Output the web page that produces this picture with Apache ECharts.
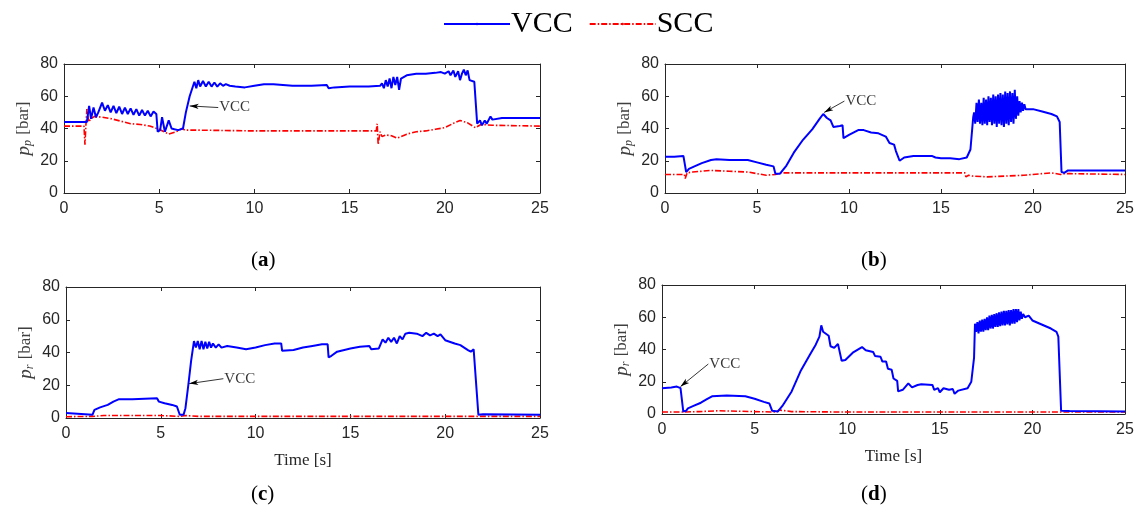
<!DOCTYPE html>
<html>
<head>
<meta charset="utf-8">
<script src="https://cdn.jsdelivr.net/npm/echarts@6/dist/echarts.min.js"></script>
<style>
html, body { margin: 0; padding: 0; background: #fff; }
#main { width: 1141px; height: 515px; }
</style>
</head>
<body>
<div id="main"></div>
<script>
// ticks
var xTicks = [0, 5, 10, 15, 20, 25];
var yTicks = [0, 20, 40, 60, 80];
var seriesNames = ['VCC', 'SCC'];
var panelLabels = ['a', 'b', 'c', 'd'];

// (a) p_p, case 1
var aVccT = [0, 1.2, 1.28, 1.32, 1.42, 1.55, 1.68, 1.8, 2.0, 2.15, 2.3, 2.45, 2.6, 2.75, 2.9, 3.05, 3.2, 3.35, 3.5, 3.65, 3.8, 3.95, 4.1, 4.25, 4.4, 4.55, 4.7, 4.85, 4.92, 5.05, 5.15, 5.3, 5.5, 5.65, 5.8, 6.0, 6.25, 6.4, 6.6, 6.85, 6.95, 7.05, 7.15, 7.3, 7.45, 7.6, 7.75, 7.9, 8.05, 8.2, 8.35, 8.5, 8.7, 9.0, 9.5, 10.0, 10.5, 11.0, 11.5, 12.0, 13.0, 13.8, 13.9, 14.2, 15, 16, 16.6, 16.7, 16.8, 16.9, 17.0, 17.1, 17.2, 17.3, 17.4, 17.5, 17.6, 17.7, 17.8, 18.0, 18.5, 19.0, 19.5, 19.8, 20.0, 20.2, 20.3, 20.45, 20.55, 20.7, 20.8, 20.9, 21.0, 21.1, 21.2, 21.3, 21.55, 21.7, 21.85, 21.95, 22.1, 22.2, 22.4, 22.5, 23, 24, 25];
var aVccV = [44, 44, 44, 54, 46, 53, 47, 50, 56, 51, 54.5, 50, 54, 49.5, 53.5, 49, 53, 49, 52.5, 48.5, 52, 48, 51.5, 48, 51, 47.5, 50.5, 49, 38, 39, 47, 38, 45, 40, 39.5, 39, 40, 50, 60, 69, 65, 70, 66, 69.5, 66, 69, 66, 68.5, 66, 68, 66.5, 67.5, 66.5, 66, 65.5, 66.5, 67.5, 67.5, 67, 66.5, 66.5, 67, 65, 65.5, 66, 66, 66.5, 68, 65, 70, 66, 71, 65, 72, 67, 72, 64, 71, 72, 73, 74, 74, 74.5, 75, 74, 75.5, 73, 76, 72, 75.5, 70, 74, 76.5, 73, 76, 70, 69, 43, 45, 42, 45, 43, 47.5, 45.5, 46.5, 46.5, 46.5];
var aSccT = [0, 1.05, 1.1, 1.15, 1.2, 1.3, 1.4, 1.6, 2.0, 2.5, 3, 3.5, 4, 4.5, 5, 5.5, 5.9, 6.2, 6.3, 6.35, 7, 10, 14, 16.4, 16.45, 16.5, 16.6, 16.7, 16.9, 17.2, 17.5, 18, 18.5, 19, 19.5, 20, 20.5, 20.8, 21.2, 21.6, 21.9, 22.5, 25];
var aSccV = [41.5, 41.5, 30, 42, 52, 44, 46, 47.5, 47, 46, 44.5, 43, 42.5, 41.5, 39.5, 36.5, 38, 40, 41, 39, 39, 38.5, 38.5, 38.5, 43, 30, 38, 35, 36, 35.5, 34, 36.5, 38, 38.5, 39.5, 40.5, 43.5, 45, 43.5, 40.5, 42.5, 42, 41.5];

// (b) p_p, case 2
var bVccT = [0, 0.5, 1.0, 1.1, 1.15, 1.3, 1.6, 2, 2.5, 2.8, 3.5, 4.5, 5, 5.5, 5.9, 6.0, 6.25, 6.6, 7, 7.5, 8, 8.4, 8.6, 8.8, 9.0, 9.15, 9.5, 9.65, 9.7, 10, 10.5, 10.8, 11.2, 11.6, 12.0, 12.2, 12.45, 12.55, 12.65, 12.75, 13, 13.5, 14.5, 14.7, 15, 15.5, 16, 16.4, 16.6, 16.75,
  16.8, 16.86, 16.93, 16.99, 17.06, 17.12, 17.19, 17.25, 17.32, 17.38, 17.45, 17.51, 17.58, 17.64, 17.71, 17.77, 17.84, 17.9, 17.97, 18.03, 18.1, 18.16, 18.23, 18.29, 18.36, 18.42, 18.49, 18.55, 18.62, 18.68, 18.75, 18.81, 18.88, 18.94, 19.01, 19.07, 19.14, 19.2, 19.27, 19.33, 19.4, 19.46, 19.53, 19.6, 19.7,
  20, 20.5, 21, 21.3, 21.45, 21.55, 21.7, 21.9, 22.5, 25];
var bVccV = [22.5, 22.5, 23, 22.5, 13, 15, 16.5, 18.5, 20.5, 21, 20.5, 20.5, 19, 17.5, 16.5, 12, 12, 17, 25, 33, 39.5, 46, 49, 46.5, 45, 41, 41.5, 42, 34, 36, 39, 39, 37.5, 37, 35, 31, 30, 26, 25, 20, 22, 23, 23, 22, 21.5, 21.5, 21, 22, 27, 47,
  50, 43, 56, 44, 58, 43, 56, 42, 59, 43, 58, 42, 60, 44, 59, 42, 61, 43, 60, 41, 61, 43, 62, 42, 61, 41, 63, 43, 62, 42, 63, 44, 62, 43, 64, 46, 60, 48, 57, 50, 56, 51, 55, 52, 53,
  52, 50.5, 49, 47.5, 44, 13, 12.5, 14, 14, 14];
var bSccT = [0, 1.05, 1.1, 1.2, 1.5, 2, 2.5, 3.5, 4.5, 5, 5.5, 6, 6.3, 8, 12, 16.3, 16.35, 16.4, 16.5, 16.7, 17.5, 18.5, 19.5, 20.5, 21, 21.5, 21.7, 22, 25];
var bSccV = [11.5, 11.5, 9, 12.5, 13, 13.5, 14, 13.5, 13, 12, 11, 11.5, 12.5, 12.5, 12.5, 12.5, 10, 9.5, 11, 10.5, 10, 10.5, 11, 12, 12.5, 11.5, 12, 12, 11.5];

// (c) p_r, case 1
var cVccT = [0, 0.1, 1.4, 1.5, 1.8, 2.2, 2.5, 2.8, 3.5, 4.8, 4.9, 5.2, 5.6, 5.85, 6.0, 6.2, 6.3, 6.45, 6.6, 6.75, 6.85, 6.95, 7.05, 7.15, 7.25, 7.35, 7.45, 7.55, 7.65, 7.75, 7.9, 8.05, 8.2, 8.5, 9, 9.5, 10, 10.5, 11, 11.35, 11.4, 12, 12.5, 13, 13.5, 13.8, 13.85, 14, 14.3, 15, 15.5, 16.0, 16.1, 16.5, 16.7, 16.85, 17.0, 17.15, 17.3, 17.45, 17.6, 17.75, 17.9, 18.1, 18.5, 18.8, 19.0, 19.2, 19.4, 19.6, 19.75, 20.0, 20.5, 20.8, 20.9, 21.0, 21.2, 21.35, 21.5, 21.6, 21.75, 22, 25];
var cVccV = [3, 2, 2, 5, 6.5, 8, 10, 11.5, 11.5, 12, 10, 9, 8, 7, 2, 2, 6, 20, 35, 47, 43, 47, 42, 47, 42, 46.5, 42.5, 46.5, 43, 45.5, 43, 45, 43, 44, 43, 42, 43, 44.5, 45.5, 45.5, 41, 41.5, 43, 44, 45, 45, 37, 38, 40.5, 42.5, 43.5, 44, 42, 42.5, 48, 46, 49, 46.5, 49, 45.5, 50, 48, 51.5, 52, 51.5, 50, 52, 50.5, 51.5, 50, 51, 47.5, 45.5, 44.5, 45.5, 43, 41.5, 40.5, 42, 41, 2, 2.3, 2];
var cSccT = [0, 1.4, 2, 5, 6, 6.3, 7, 25];
var cSccV = [0.8, 1, 1.5, 1.5, 1, 1.5, 1, 1];

// (d) p_r, case 2
var dVccT = [0, 0.5, 0.8, 1.0, 1.1, 1.15, 1.3, 1.4, 1.7, 2.1, 2.4, 2.7, 3.5, 4.5, 5, 5.5, 5.8, 5.95, 6.25, 6.5, 7, 7.5, 8, 8.3, 8.5, 8.6, 8.7, 9.0, 9.1, 9.3, 9.5, 9.6, 9.7, 9.9, 10.3, 10.8, 11.0, 11.4, 11.5, 11.8, 11.9, 12.1, 12.2, 12.4, 12.5, 12.7, 12.75, 13, 13.3, 13.5, 13.8, 14, 14.6, 14.7, 14.9, 15.0, 15.2, 15.5, 15.7, 15.8, 16, 16.5, 16.7, 16.85,
  16.9, 16.96, 17.03, 17.09, 17.16, 17.22, 17.29, 17.35, 17.42, 17.48, 17.55, 17.61, 17.68, 17.74, 17.81, 17.87, 17.94, 18.0, 18.07, 18.13, 18.2, 18.26, 18.33, 18.39, 18.46, 18.52, 18.59, 18.65, 18.72, 18.78, 18.85, 18.91, 18.98, 19.04, 19.11, 19.17, 19.24, 19.3, 19.37, 19.43, 19.5, 19.6,
  19.8, 20, 20.5, 21, 21.3, 21.4, 21.5, 21.55, 22, 25];
var dVccV = [16, 16.5, 17, 16, 16.5, 1.5, 2, 3.5, 5, 7, 9, 11, 11.5, 11, 9.5, 7.5, 6.5, 2, 1.5, 5, 14, 27, 37, 43, 48, 55, 51, 48.5, 42, 41, 43.5, 43.5, 33, 33.5, 38, 41.5, 39.5, 38.5, 36, 35.5, 32.5, 32.5, 28, 27.5, 22, 20.5, 14, 15, 19, 16.5, 18, 18.5, 18, 15, 16, 13.5, 16, 15, 15.5, 12.5, 14.5, 16, 20, 35,
  56, 51, 57, 50, 58, 51, 58.5, 51, 59, 52, 60, 52, 61, 53, 61.5, 53, 62, 54, 62.5, 54, 63, 54.5, 63.5, 55, 64, 55, 64, 55.5, 64.5, 55, 64.5, 56, 65, 56, 65, 57, 65, 58, 63.5, 59, 62, 60,
  61, 58, 55.5, 53, 51, 48, 47, 2, 1.8, 1.5];
var dSccT = [0, 1.1, 2, 3, 5, 6.2, 6.3, 7, 10, 25];
var dSccV = [1.2, 1.2, 1.5, 2, 1.5, 1.2, 2.5, 1.5, 1.2, 1.2];

// "VCC" annotation: text point and arrow head, per panel
var annText = [[8.1, 53], [9.75, 57], [8.3, 24], [2.5, 31]];
var annHead = [[6.6, 54], [8.65, 50], [6.5, 21], [1.0, 17]];

var yNames = ['{i|p}{s|p} [bar]', '{i|p}{s|p} [bar]', '{i|p}{s|r} [bar]', '{i|p}{s|r} [bar]'];

var grids = [
  {left: 64, top: 64, width: 476, height: 129},
  {left: 665, top: 64, width: 460, height: 129},
  {left: 66, top: 287, width: 474, height: 131},
  {left: 662, top: 285, width: 463, height: 129}
];

function pairs(t, v) {
  var out = [];
  for (var i = 0; i < t.length; i++) out.push([t[i], v[i]]);
  return out;
}

var vcc = [pairs(aVccT, aVccV), pairs(bVccT, bVccV), pairs(cVccT, cVccV), pairs(dVccT, dVccV)];
var scc = [pairs(aSccT, aSccV), pairs(bSccT, bSccV), pairs(cSccT, cSccV), pairs(dSccT, dSccV)];

var axisCol = '#262626';
var tickFont = {color: axisCol, fontSize: 16, fontFamily: 'Liberation Sans'};
var serif = 'Liberation Serif';

var xAxes = [], yAxes = [], series = [];
grids.forEach(function (g, k) {
  var base = {
    type: 'value', gridIndex: k, min: 0, splitLine: {show: false},
    axisLine: {show: true, onZero: false, lineStyle: {color: axisCol, width: 1}},
    axisTick: {show: true, inside: true, length: 4, lineStyle: {color: axisCol}}
  };
  xAxes.push(Object.assign({}, base, {
    max: 25, interval: 5, position: 'bottom',
    axisLabel: Object.assign({margin: 8}, tickFont),
    name: k >= 2 ? 'Time [s]' : '', nameLocation: 'middle', nameGap: 34,
    nameTextStyle: {fontFamily: serif, fontSize: 17, color: axisCol}
  }));
  xAxes.push(Object.assign({}, base, {max: 25, interval: 5, position: 'top', axisLabel: {show: false}}));
  yAxes.push(Object.assign({}, base, {
    max: 80, interval: 20, position: 'left',
    axisLabel: Object.assign({margin: 6}, tickFont),
    name: yNames[k], nameLocation: 'middle', nameGap: 30,
    nameTextStyle: {
      fontFamily: serif, fontSize: 17, color: '#404040',
      rich: {
        i: {fontFamily: serif, fontStyle: 'italic', fontSize: 19, color: '#404040'},
        s: {fontFamily: serif, fontStyle: 'italic', fontSize: 12, color: '#404040', padding: [9, 1, 0, 0]}
      }
    }
  }));
  yAxes.push(Object.assign({}, base, {max: 80, interval: 20, position: 'right', axisLabel: {show: false}}));

  series.push({
    name: 'VCC', type: 'line', xAxisIndex: 2 * k, yAxisIndex: 2 * k,
    data: vcc[k], showSymbol: false, symbol: 'none', z: 3,
    lineStyle: {color: '#0000ff', width: 2}, itemStyle: {color: '#0000ff'},
    markLine: {
      silent: true, symbol: ['none', 'arrow'], symbolSize: [4, 9],
      label: {show: false},
      itemStyle: {color: '#000'},
      lineStyle: {color: '#000', width: 0.8, type: 'solid', opacity: 1},
      emphasis: {disabled: true},
      data: [[{coord: annText[k]}, {coord: annHead[k]}]]
    }
  });
  series.push({
    name: 'SCC', type: 'line', xAxisIndex: 2 * k, yAxisIndex: 2 * k,
    data: scc[k], showSymbol: false, symbol: 'none', z: 2,
    lineStyle: {color: '#ff0000', width: 1.6, type: [6, 2, 1.5, 2]}, itemStyle: {color: '#ff0000'}
  });
  series.push({
    type: 'scatter', xAxisIndex: 2 * k, yAxisIndex: 2 * k, symbolSize: 0, silent: true,
    data: [annText[k]],
    label: {show: true, position: 'right', distance: 1, formatter: 'VCC',
      fontFamily: serif, fontSize: 15, color: '#000'}
  });
});

var labelPos = [[265, 263], [875, 263], [265, 497], [875, 497]];
var graphics = labelPos.map(function (p, k) {
  return {
    type: 'text', left: p[0] - 14, top: p[1] - 13,
    style: {
      text: '({b|' + panelLabels[k] + '})',
      font: '21px "Liberation Serif"', fill: '#000',
      rich: {b: {fontFamily: serif, fontSize: 21, fontWeight: 'bold', fill: '#000'}}
    }
  };
});

var chart = echarts.init(document.getElementById('main'));
chart.setOption({
  animation: false,
  legend: {
    data: seriesNames, left: 438, top: 4, itemWidth: 66, itemHeight: 3, itemGap: 16,
    textStyle: {fontFamily: serif, fontSize: 30, color: '#000', padding: [0, 0, 0, -4]}
  },
  grid: grids,
  xAxis: xAxes,
  yAxis: yAxes,
  series: series,
  graphic: graphics
});
</script>
</body>
</html>
